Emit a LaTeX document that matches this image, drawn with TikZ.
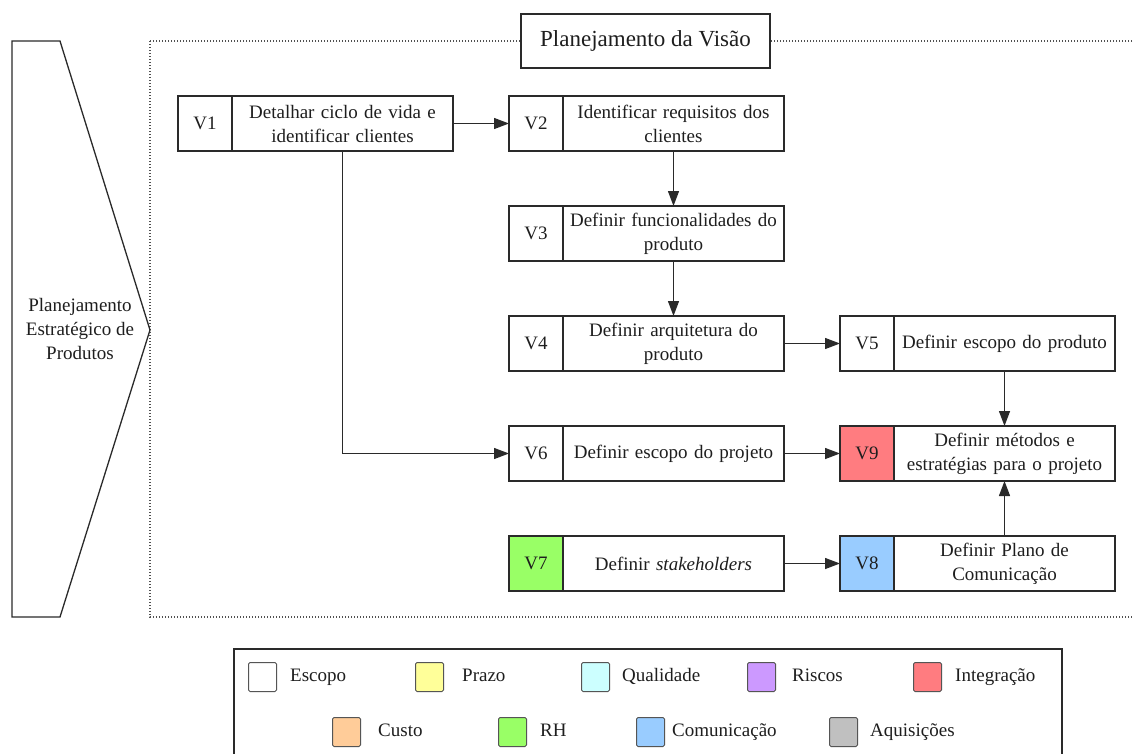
\documentclass[tikz,border=0pt]{standalone}
\usepackage{fontspec}
\setmainfont{Liberation Serif}
\newfontfamily\timesfam{Liberation Serif}
\usetikzlibrary{arrows.meta}

\definecolor{ink}{HTML}{2A2A2A}
\definecolor{txt}{HTML}{1E1E1E}
\definecolor{frameline}{HTML}{505050}
\definecolor{cEscopo}{HTML}{FFFFFF}
\definecolor{cPrazo}{HTML}{FFFF99}
\definecolor{cQualidade}{HTML}{CCFFFF}
\definecolor{cRiscos}{HTML}{CC99FF}
\definecolor{cIntegracao}{HTML}{FF7C80}
\definecolor{cCusto}{HTML}{FFCC99}
\definecolor{cRH}{HTML}{99FF66}
\definecolor{cComunicacao}{HTML}{99CCFF}
\definecolor{cAquisicoes}{HTML}{C0C0C0}

\newcommand\cellfont{\timesfam\fontsize{19}{24}\selectfont}
\newcommand\headfont{\timesfam\fontsize{23}{27}\selectfont}

\begin{document}
\begin{tikzpicture}[x=1pt,y=-1pt,
  text=txt,
  idcell/.style={draw=ink, line width=1.3pt, minimum width=54pt, minimum height=55pt,
    inner sep=0pt, outer sep=0pt, font=\cellfont, anchor=east},
  txtcell/.style={draw=ink, line width=1.3pt, fill=white, minimum width=221pt, minimum height=55pt,
    text width=214pt, align=center, inner sep=0pt, outer sep=0pt, font=\cellfont, anchor=west},
  flow/.style={draw=ink, line width=1.3pt, -{Triangle[length=15pt,width=11pt]}},
  swatch/.style={draw=ink!80, line width=1pt, rounded corners=1.5pt, minimum width=28pt,
    minimum height=29pt, inner sep=0pt},
  legtext/.style={font=\cellfont, anchor=west, inner sep=0pt, text height=13pt, text depth=4pt},
]
\useasboundingbox (0,0) rectangle (1133,753);
\clip (0,0) rectangle (1133,753);

% outer phase frame (dotted)
\draw[frameline, line width=1.5pt, dash pattern=on 1.2pt off 1.8pt] (150,41) rectangle (1160,617);

% left chevron: strategic planning stage
\draw[ink, line width=1.3pt, fill=white] (12,41) -- (60,41) -- (150,330) -- (60,617) -- (12,617) -- cycle;
\node[font=\cellfont, align=center, inner sep=0pt] (pep) at (80,329)
  {Planejamento\\Estratégico de\\Produtos};

% phase title
\node[draw=ink, line width=1.3pt, fill=white, minimum width=249pt, minimum height=54pt,
  inner sep=0pt, font=\headfont] (title) at (645.5,41) {Planejamento da Visão};

% activities
\node[txtcell] (v1) at (232,123.5) {Detalhar ciclo de vida e\\identificar clientes};
\node[idcell] (v1id) at (v1.west) {V1};

\node[txtcell] (v2) at (563,123.5) {Identificar requisitos dos\\clientes};
\node[idcell] (v2id) at (v2.west) {V2};

\node[txtcell] (v3) at (563,233.5) {Definir funcionalidades do\\produto};
\node[idcell] (v3id) at (v3.west) {V3};

\node[txtcell] (v4) at (563,343.5) {Definir arquitetura do\\produto};
\node[idcell] (v4id) at (v4.west) {V4};

\node[txtcell] (v5) at (894,343.5) {Definir escopo do produto};
\node[idcell] (v5id) at (v5.west) {V5};

\node[txtcell] (v6) at (563,453.5) {Definir escopo do projeto};
\node[idcell] (v6id) at (v6.west) {V6};

\node[txtcell] (v9) at (894,453.5) {Definir métodos e\\estratégias para o projeto};
\node[idcell, fill=cIntegracao] (v9id) at (v9.west) {V9};

\node[txtcell] (v7) at (563,563.5) {Definir \textit{stakeholders}};
\node[idcell, fill=cRH] (v7id) at (v7.west) {V7};

\node[txtcell] (v8) at (894,563.5) {Definir Plano de\\Comunicação};
\node[idcell, fill=cComunicacao] (v8id) at (v8.west) {V8};

% dependencies
\draw[flow] (v1.east) -- (v2id.west);
\draw[flow] (v2.south) -- (v3.north);
\draw[flow] (v3.south) -- (v4.north);
\draw[flow] (v4.east) -- (v5id.west);
\draw[flow] (v5.south) -- (v9.north);
\draw[flow] (v1.south) |- (v6id.west);
\draw[flow] (v6.east) -- (v9id.west);
\draw[flow] (v7.east) -- (v8id.west);
\draw[flow] (v8.north) -- (v9.south);

% legend
\draw[ink, line width=1.3pt, fill=white] (234,649) rectangle (1062,780);
\node[swatch, fill=cEscopo, anchor=west] (sEsc) at (248,677) {};
\node[legtext] (lEsc) at (290,677) {Escopo};
\node[swatch, fill=cPrazo, anchor=west] (sPra) at (415,677) {};
\node[legtext] (lPra) at (462,677) {Prazo};
\node[swatch, fill=cQualidade, anchor=west] (sQua) at (581,677) {};
\node[legtext] (lQua) at (622,677) {Qualidade};
\node[swatch, fill=cRiscos, anchor=west] (sRis) at (747,677) {};
\node[legtext] (lRis) at (792,677) {Riscos};
\node[swatch, fill=cIntegracao, anchor=west] (sInt) at (913,677) {};
\node[legtext] (lInt) at (955,677) {Integração};

\node[swatch, fill=cCusto, anchor=west] (sCus) at (332,732) {};
\node[legtext] (lCus) at (378,732) {Custo};
\node[swatch, fill=cRH, anchor=west] (sRH) at (498,732) {};
\node[legtext] (lRH) at (540,732) {RH};
\node[swatch, fill=cComunicacao, anchor=west] (sCom) at (636,732) {};
\node[legtext] (lCom) at (672,732) {Comunicação};
\node[swatch, fill=cAquisicoes, anchor=west] (sAqu) at (829,732) {};
\node[legtext] (lAqu) at (870,732) {Aquisições};
\end{tikzpicture}
\end{document}
